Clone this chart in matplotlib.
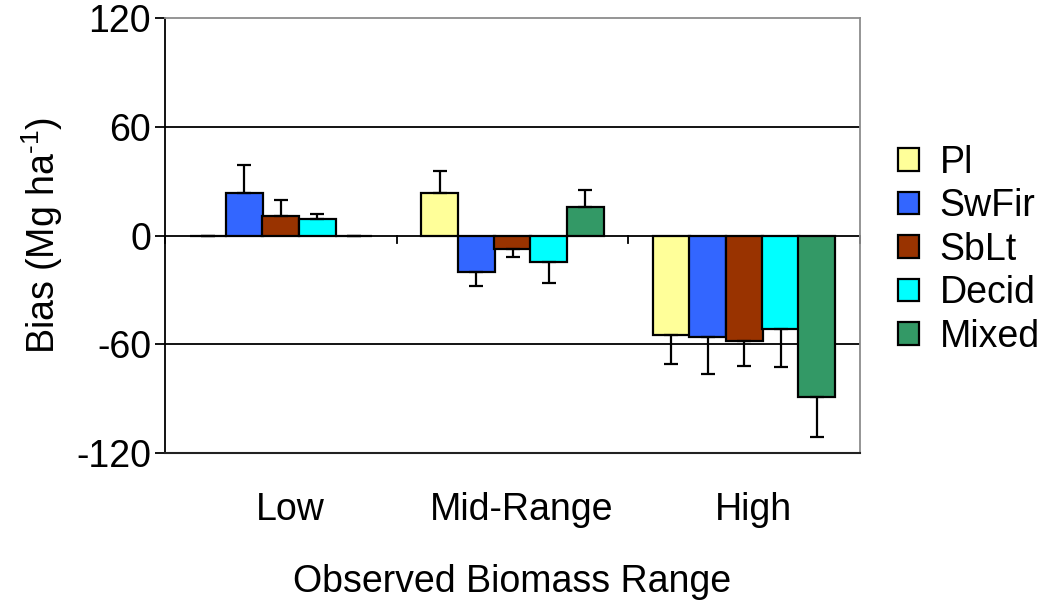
import matplotlib
matplotlib.use("Agg")
import matplotlib.pyplot as plt
import numpy as np
from matplotlib.transforms import ScaledTranslation

plt.rcParams['font.family'] = ['Liberation Sans', 'DejaVu Sans']
plt.rcParams['mathtext.fontset'] = 'custom'
plt.rcParams['mathtext.rm'] = 'Liberation Sans'

categories = ["Low", "Mid-Range", "High"]
series = ["Pl", "SwFir", "SbLt", "Decid", "Mixed"]
colors = ["#FFFF99", "#3366FF", "#993300", "#00FFFF", "#339966"]
values = {
    "Pl":    [0.0, 23.3, -55.0],
    "SwFir": [23.3, -20.0, -56.2],
    "SbLt":  [10.8, -7.5, -58.2],
    "Decid": [8.9, -14.8, -51.8],
    "Mixed": [0.0, 15.9, -89.0],
}
errors = {
    "Pl":    [0.0, 12.5, 16.0],
    "SwFir": [15.6, 7.7, 20.0],
    "SbLt":  [9.0, 4.5, 13.6],
    "Decid": [3.0, 11.6, 21.0],
    "Mixed": [0.0, 9.2, 22.0],
}
yticks = [-120, -60, 0, 60, 120]

fig = plt.figure(figsize=(10.38, 6.05), dpi=100)
ax = fig.add_axes([0.159, 0.2512, 0.8285 - 0.159, 0.9702 - 0.2512])

x = np.arange(len(categories))
width = 0.16
step = 0.157
fs = 27

for i, s in enumerate(series):
    xs = x + (i - 2) * step
    v = np.array(values[s])
    e = np.array(errors[s])
    ax.bar(xs, v, width=width, color=colors[i], edgecolor='black', linewidth=1.6, zorder=3, label=s)
    lower = np.where(v < 0, e, 0)
    upper = np.where(v >= 0, e, 0)
    ax.errorbar(xs, v, yerr=[lower, upper], fmt='none', ecolor='black', elinewidth=1.6,
                capsize=5, capthick=1.6, zorder=4)

ax.set_xlim(-0.5, len(categories) - 0.5)
ax.set_ylim(-120, 120)
ax.set_yticks(yticks)
ax.set_yticklabels([str(t) for t in yticks], fontsize=fs)
for t in [-60, 0, 60]:
    ax.axhline(t, color='black', linewidth=1.3, zorder=1)

# category boundary ticks on the zero line
for b in np.arange(len(categories) + 1) - 0.5:
    ax.plot([b, b], [0, -4], color='black', linewidth=1.3, zorder=2, clip_on=False)

ax.set_xticks(x)
ax.set_xticklabels(categories, fontsize=fs)
ax.tick_params(axis='x', length=0, pad=28)
for lab in ax.get_xticklabels():
    lab.set_transform(lab.get_transform() + ScaledTranslation(0.09, 0, fig.dpi_scale_trans))
ax.tick_params(axis='y', direction='out', length=7, width=1.3, pad=3)

for side in ['top', 'right']:
    ax.spines[side].set_color('#8c8c8c')
    ax.spines[side].set_linewidth(1.3)
ax.spines['left'].set_color('black')
ax.spines['left'].set_linewidth(1.3)
ax.spines['bottom'].set_color('#222222')
ax.spines['bottom'].set_linewidth(1.5)

ax.set_ylabel('Bias (Mg ha$^{\\text{-1}}$)', fontsize=fs, labelpad=8)
ax.set_xlabel('Observed Biomass Range', fontsize=fs, labelpad=26)

leg = fig.legend(loc='center left', bbox_to_anchor=(0.851, 0.587), frameon=False,
                 fontsize=fs, handlelength=0.55, handleheight=0.55, handletextpad=0.55,
                 labelspacing=0.2, borderaxespad=0)

fig.savefig('out.png', dpi=100)
